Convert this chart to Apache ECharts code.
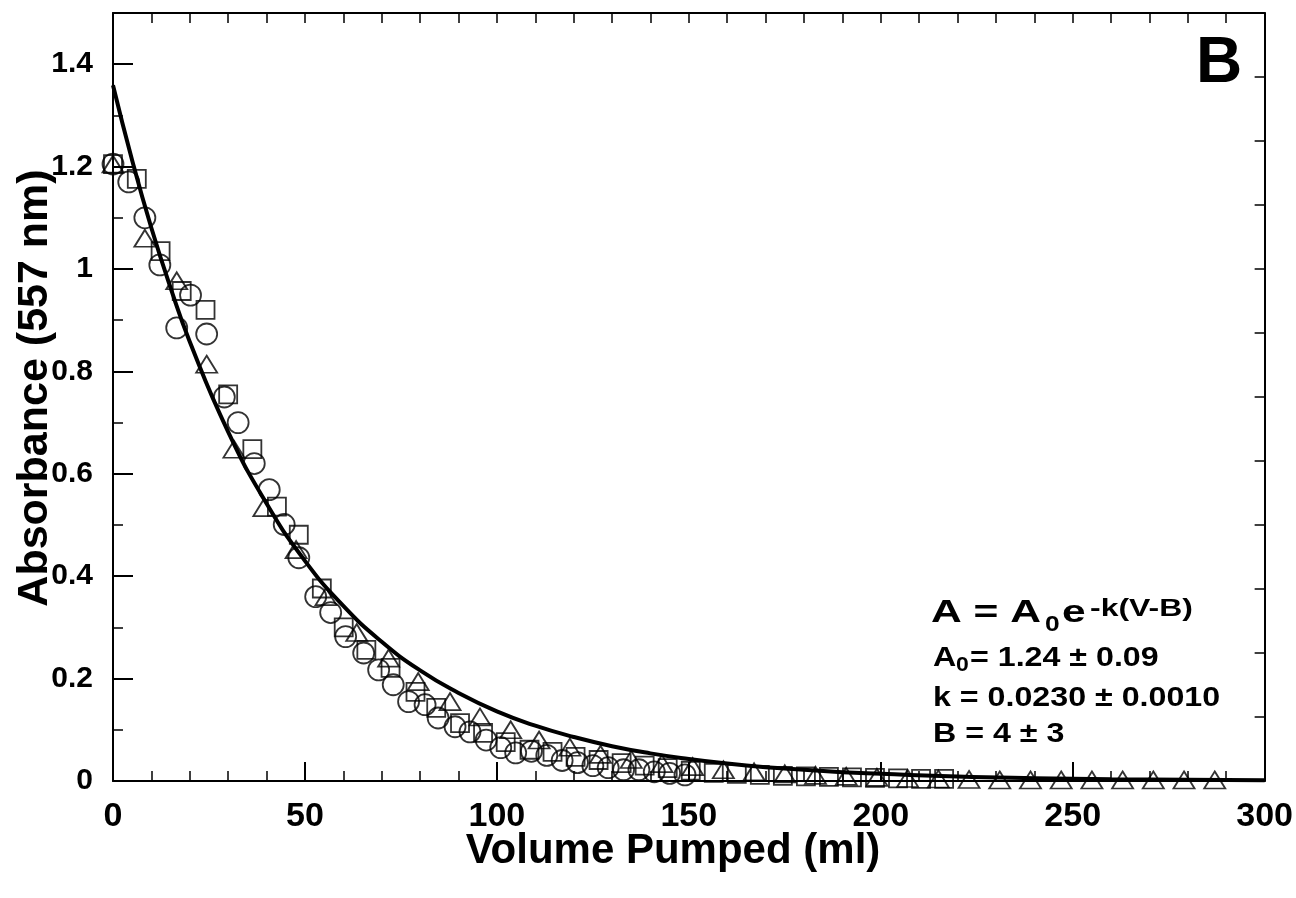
<!DOCTYPE html>
<html>
<head>
<meta charset="utf-8">
<script src="https://cdn.jsdelivr.net/npm/echarts@6/dist/echarts.min.js"></script>
<style>html,body{margin:0;padding:0;background:#fff}#c{width:1296px;height:898px}</style>
</head>
<body>
<div id="c"></div>
<script>
// ---- data ----
var circleV = [0,4.1,8.3,12.2,16.6,20.2,24.4,29,32.6,36.8,40.7,44.6,48.4,52.8,56.7,60.6,65.3,69.2,73,77,81.3,84.7,89.1,93,97.2,101,104.9,109,113,117,121,125,129,133,137,141,145,149];
var circleA = [1.205,1.17,1.10,1.008,0.885,0.949,0.873,0.75,0.70,0.62,0.569,0.501,0.436,0.36,0.329,0.282,0.25,0.217,0.188,0.155,0.149,0.123,0.106,0.096,0.08,0.065,0.055,0.058,0.05,0.04,0.036,0.03,0.026,0.022,0.022,0.018,0.015,0.012];
var squareV = [0,6.2,12.4,17.9,24.1,30,36.3,42.7,48.4,54.4,60.1,66,72.3,78.8,84.2,90.4,96.4,102.3,108.5,114.5,120.5,126.5,132.5,138.5,144.5,150.5,156.5,162.5,168.5,174.5,180.5,186.5,192.5,198.5,204.5,210.5,216.5];
var squareA = [1.205,1.176,1.035,0.957,0.92,0.755,0.648,0.536,0.481,0.376,0.30,0.256,0.221,0.174,0.143,0.113,0.094,0.076,0.061,0.057,0.047,0.041,0.035,0.03,0.025,0.02,0.016,0.014,0.012,0.01,0.009,0.008,0.007,0.006,0.005,0.004,0.004];
var triV = [0,8.3,16.6,24.4,31.5,39.3,47.7,55.5,63.5,71.8,79.5,87.8,95.6,103.6,111,119,127,135,143,151,159,167,175,183,191,199,207,215,223,231,239,247,255,263,271,279,287];
var triA = [1.205,1.06,0.977,0.814,0.648,0.534,0.452,0.36,0.29,0.24,0.194,0.155,0.125,0.10,0.08,0.066,0.052,0.042,0.034,0.028,0.022,0.018,0.014,0.011,0.009,0.007,0.005,0.004,0.003,0.002,0.002,0.002,0.002,0.002,0.002,0.002,0.002];
var fitV = [0,5,10,15,20,30,40,50,60,70,80,90,100,110,120,130,140,150,160,170,180,190,200,220,240,260,280,300];
var fitA = [1.359,1.212,1.080,0.963,0.858,0.682,0.542,0.430,0.342,0.272,0.216,0.172,0.136,0.108,0.086,0.068,0.054,0.043,0.034,0.027,0.022,0.017,0.014,0.0086,0.0055,0.0035,0.0022,0.0014];
var xTickLabels = ['0','50','100','150','200','250','300'];
var yTickLabels = ['0','0.2','0.4','0.6','0.8','1','1.2','1.4'];

function pairs(xs, ys){ return xs.map(function(x,i){ return [x, ys[i]]; }); }

var FF = '"Liberation Sans", Arial, sans-serif';
var chart = echarts.init(document.getElementById('c'), null, {renderer:'canvas'});
var black = '#000';
function txt(text, x, y, size, sx, opts){
  opts = opts || {};
  return {
    type:'text', x:x, y:y, scaleX: sx || 1, rotation: opts.rotation || 0, z: 10,
    style:{ text:text, font:'bold '+size+'px '+FF, fill:black,
      align: opts.align || 'left', textAlign: opts.align || 'left',
      verticalAlign:'middle', textVerticalAlign:'middle' }
  };
}

var option = {
  animation:false,
  backgroundColor:'#fff',
  grid:{left:113, right:29, top:13, bottom:117, containLabel:false},
  xAxis:[{
    type:'value', position:'bottom', min:0, max:300, interval:50,
    axisLine:{show:true, onZero:false, lineStyle:{color:black, width:2}},
    axisTick:{show:true, inside:true, length:19, lineStyle:{color:black, width:2}},
    minorTick:{show:true, splitNumber:5, length:10, lineStyle:{color:black, width:1.5}},
    splitLine:{show:false}, minorSplitLine:{show:false},
    axisLabel:{show:true, margin:19, color:black, fontSize:34, fontWeight:'bold', fontFamily:FF,
      formatter:function(v){ var i = Math.round(v/50); return xTickLabels[i] !== undefined ? xTickLabels[i] : ''; }}
  },{
    type:'value', position:'top', min:0, max:300, interval:10,
    axisLine:{show:true, onZero:false, lineStyle:{color:black, width:2}},
    axisTick:{show:true, inside:true, length:10, lineStyle:{color:black, width:1.5}},
    splitLine:{show:false}, axisLabel:{show:false}
  }],
  yAxis:[{
    type:'value', position:'left', min:0, max:1.5, interval:0.2,
    axisLine:{show:true, onZero:false, lineStyle:{color:black, width:2}},
    axisTick:{show:true, inside:true, length:20, lineStyle:{color:black, width:2}},
    splitLine:{show:false},
    axisLabel:{show:true, margin:20, color:black, fontSize:30, fontWeight:'bold', fontFamily:FF, showMaxLabel:false,
      formatter:function(v){ var i = Math.round(v/0.2); return (Math.abs(v - i*0.2) < 1e-6 && yTickLabels[i] !== undefined) ? yTickLabels[i] : ''; }}
  },{
    type:'value', position:'left', min:0, max:1.5, interval:0.1,
    axisLine:{show:false}, splitLine:{show:false}, axisLabel:{show:false},
    axisTick:{show:true, inside:true, length:10, lineStyle:{color:black, width:1.5}}
  },{
    type:'value', position:'right', min:0, max:12, interval:1,
    axisLine:{show:true, onZero:false, lineStyle:{color:black, width:2}},
    axisTick:{show:true, inside:true, length:10, lineStyle:{color:black, width:1.5}},
    splitLine:{show:false}, axisLabel:{show:false}
  }],
  series:[{
    type:'scatter', name:'circles', data:pairs(circleV, circleA), symbol:'circle', symbolSize:21,
    itemStyle:{color:'rgba(0,0,0,0)', borderColor:black, borderWidth:1.8}, z:2, clip:false
  },{
    type:'scatter', name:'squares', data:pairs(squareV, squareA), symbol:'rect', symbolSize:18,
    itemStyle:{color:'rgba(0,0,0,0)', borderColor:black, borderWidth:1.8}, z:2, clip:false
  },{
    type:'scatter', name:'triangles', data:pairs(triV, triA), symbol:'triangle', symbolSize:[21,17],
    itemStyle:{color:'rgba(0,0,0,0)', borderColor:black, borderWidth:1.8}, z:2, clip:false
  },{
    type:'line', name:'fit', data:pairs(fitV, fitA), smooth:true, showSymbol:false, symbol:'none',
    lineStyle:{color:black, width:4}, z:5
  }],
  graphic:[
    txt('Volume Pumped (ml)', 673, 851, 42, 1, {align:'center'}),
    txt('Absorbance (557 nm)', 35, 388, 43, 1, {align:'center', rotation:Math.PI/2}),
    txt('B', 1219, 64, 64, 1, {align:'center'}),
    txt('A = A', 931, 613, 32, 1.33),
    txt('0', 1045, 625, 22, 1.2),
    txt('e', 1062, 613, 32, 1.33),
    txt('-k(V-B)', 1090, 609, 24, 1.33),
    txt('A', 933, 658, 28, 1.15),
    txt('0', 956, 665, 20, 1.15),
    txt('= 1.24 \u00b1 0.09', 970, 658, 28, 1.15),
    txt('k = 0.0230 \u00b1 0.0010', 933, 698, 28, 1.15),
    txt('B = 4 \u00b1 3', 933, 734, 28, 1.15)
  ]
};
chart.setOption(option);
</script>
</body>
</html>
